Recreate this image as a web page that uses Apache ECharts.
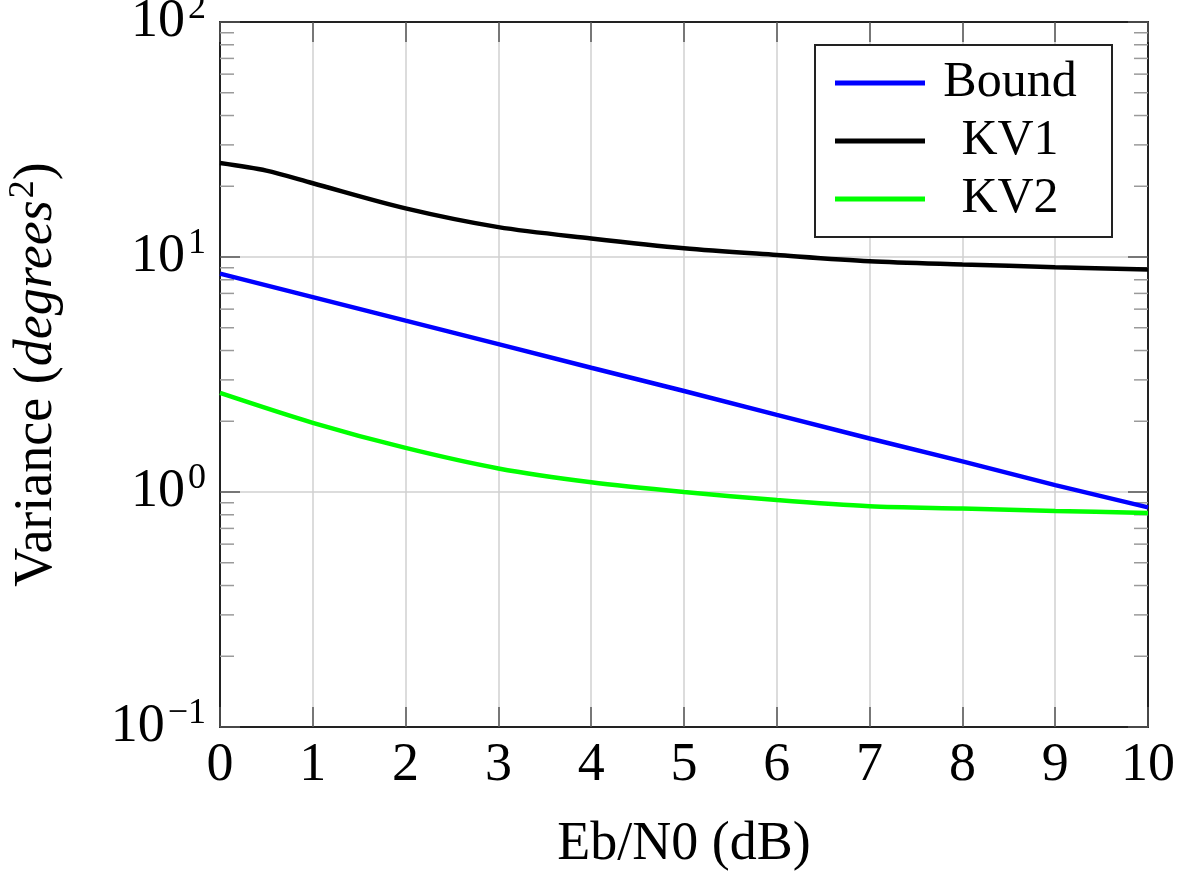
<!DOCTYPE html>
<html>
<head>
<meta charset="utf-8">
<script src="https://cdn.jsdelivr.net/npm/echarts@6/dist/echarts.min.js"></script>
<style>
html,body{margin:0;padding:0;background:#fff;}
#chart{width:1179px;height:871px;}
</style>
</head>
<body>
<div id="chart"></div>
<script>
// ---- data ----
const boundX = [0, 1, 2, 3, 4, 5, 6, 7, 8, 9, 10];
const boundY = [8.5, 6.75, 5.36, 4.26, 3.38, 2.69, 2.13, 1.69, 1.35, 1.07, 0.86];
const kv1X = [0, 0.5, 1, 2, 3, 4, 5, 6, 7, 8, 9, 10];
const kv1Y = [25.1, 23.3, 20.6, 16.1, 13.4, 12.0, 10.9, 10.2, 9.6, 9.3, 9.05, 8.85];
const kv2X = [0, 1, 2, 3, 4, 5, 6, 7, 8, 9, 10];
const kv2Y = [2.64, 1.97, 1.54, 1.26, 1.10, 1.0, 0.925, 0.87, 0.85, 0.83, 0.815];
const seriesNames = ['Bound', 'KV1', 'KV2'];
const seriesColors = ['#0000ff', '#000000', '#00ff00'];
const xTicks = [0, 1, 2, 3, 4, 5, 6, 7, 8, 9, 10];
const yDecades = [0.1, 1, 10, 100];
const xName = 'Eb/N0 (dB)';

const FONT = 'Liberation Serif';
const FS = 54;

function pairs(xs, ys) { return xs.map((x, i) => [x, ys[i]]); }

// minor tick values 2..9 inside each decade
const minorVals = [];
for (let d = 0; d < yDecades.length - 1; d++) {
  for (let k = 2; k <= 9; k++) minorVals.push(+(yDecades[d] * k).toPrecision(3));
}

const chart = echarts.init(document.getElementById('chart'), null, {renderer: 'canvas'});

const supLabel = {
  formatter: function (v) {
    const e = Math.round(Math.log10(v));
    return '{b|10}{e|' + (e < 0 ? '\u2212' + (-e) : e) + '}';
  },
  rich: {
    b: {fontFamily: FONT, fontSize: FS, color: '#000'},
    e: {fontFamily: FONT, fontSize: 36, color: '#000', padding: [0, 0, 26, 3]}
  },
  margin: 14
};

const option = {
  backgroundColor: '#fff',
  animation: false,
  grid: {left: 220, right: 31, top: 22, bottom: 144, containLabel: false, outerBoundsMode: 'none'},
  legend: {
    data: seriesNames,
    orient: 'vertical',
    right: 67,
    top: 45,
    width: 297,
    backgroundColor: '#fff',
    borderColor: '#222',
    borderWidth: 2,
    borderRadius: 0,
    padding: [13, 22, 13, 20],
    itemGap: 8,
    itemWidth: 90,
    itemHeight: 5,
    icon: 'rect',
    textStyle: {
      fontFamily: FONT, fontSize: 50, color: '#000',
      rich: {a: {fontFamily: FONT, fontSize: 50, width: 160, align: 'center', lineHeight: 50}}
    },
    formatter: function (n) { return '{a|' + n + '}'; }
  },
  xAxis: [{
    type: 'value', min: 0, max: 10, interval: 1,
    name: xName, nameLocation: 'middle', nameGap: 91,
    nameTextStyle: {fontFamily: FONT, fontSize: FS, color: '#000'},
    axisLine: {show: true, onZero: false, lineStyle: {color: '#222', width: 2}},
    axisTick: {show: true, inside: true, length: 20, lineStyle: {color: '#555', width: 1.5}},
    axisLabel: {fontFamily: FONT, fontSize: FS, color: '#000', margin: 12},
    splitLine: {show: true, lineStyle: {color: '#d0d0d0', width: 1.5}}
  }, {
    type: 'value', min: 0, max: 10, interval: 1, position: 'top',
    axisLine: {show: true, onZero: false, lineStyle: {color: '#222', width: 2}},
    axisTick: {show: true, inside: true, length: 20, lineStyle: {color: '#555', width: 1.5}},
    axisLabel: {show: false},
    splitLine: {show: false}
  }],
  yAxis: [{
    type: 'log', logBase: 10, min: 0.1, max: 100,
    name: '{n|Variance (}{i|degrees}{s|2}{n|)}',
    nameLocation: 'middle', nameGap: 152, nameRotate: 90,
    nameTextStyle: {
      rich: {
        n: {fontFamily: FONT, fontSize: FS, color: '#000'},
        i: {fontFamily: FONT, fontSize: FS, fontStyle: 'italic', color: '#000'},
        s: {fontFamily: FONT, fontSize: 36, color: '#000', padding: [0, 0, 26, 2]}
      }
    },
    axisLine: {show: true, onZero: false, lineStyle: {color: '#222', width: 2}},
    axisTick: {show: true, inside: true, length: 20, lineStyle: {color: '#555', width: 1.5}},
    axisLabel: supLabel,
    splitLine: {show: true, lineStyle: {color: '#d0d0d0', width: 1.5}}
  }, {
    type: 'log', logBase: 10, min: 0.1, max: 100, position: 'right',
    axisLine: {show: true, onZero: false, lineStyle: {color: '#222', width: 2}},
    axisTick: {show: true, inside: true, length: 20, lineStyle: {color: '#555', width: 1.5}},
    axisLabel: {show: false},
    splitLine: {show: false}
  }],
  series: [
    {
      type: 'custom', name: 'minorTicks', silent: true, clip: false, z: 1,
      data: minorVals.map(v => [0, v]),
      renderItem: function (params, api) {
        const v = api.value(1);
        const pL = api.coord([0, v]);
        const pR = api.coord([10, v]);
        const st = {stroke: '#9a9a9a', lineWidth: 1.5};
        return {
          type: 'group',
          children: [
            {type: 'line', shape: {x1: pL[0], y1: pL[1], x2: pL[0] + 14, y2: pL[1]}, style: st},
            {type: 'line', shape: {x1: pR[0], y1: pR[1], x2: pR[0] - 14, y2: pR[1]}, style: st}
          ]
        };
      }
    },
    {
      name: seriesNames[0], type: 'line', data: pairs(boundX, boundY),
      showSymbol: false, symbol: 'none', smooth: false, z: 3,
      lineStyle: {color: seriesColors[0], width: 4.5}, itemStyle: {color: seriesColors[0]}
    },
    {
      name: seriesNames[1], type: 'line', data: pairs(kv1X, kv1Y),
      showSymbol: false, symbol: 'none', smooth: 0.3, z: 3,
      lineStyle: {color: seriesColors[1], width: 4.5}, itemStyle: {color: seriesColors[1]}
    },
    {
      name: seriesNames[2], type: 'line', data: pairs(kv2X, kv2Y),
      showSymbol: false, symbol: 'none', smooth: 0.3, z: 3,
      lineStyle: {color: seriesColors[2], width: 4.5}, itemStyle: {color: seriesColors[2]}
    }
  ]
};
chart.setOption(option);
</script>
</body>
</html>
